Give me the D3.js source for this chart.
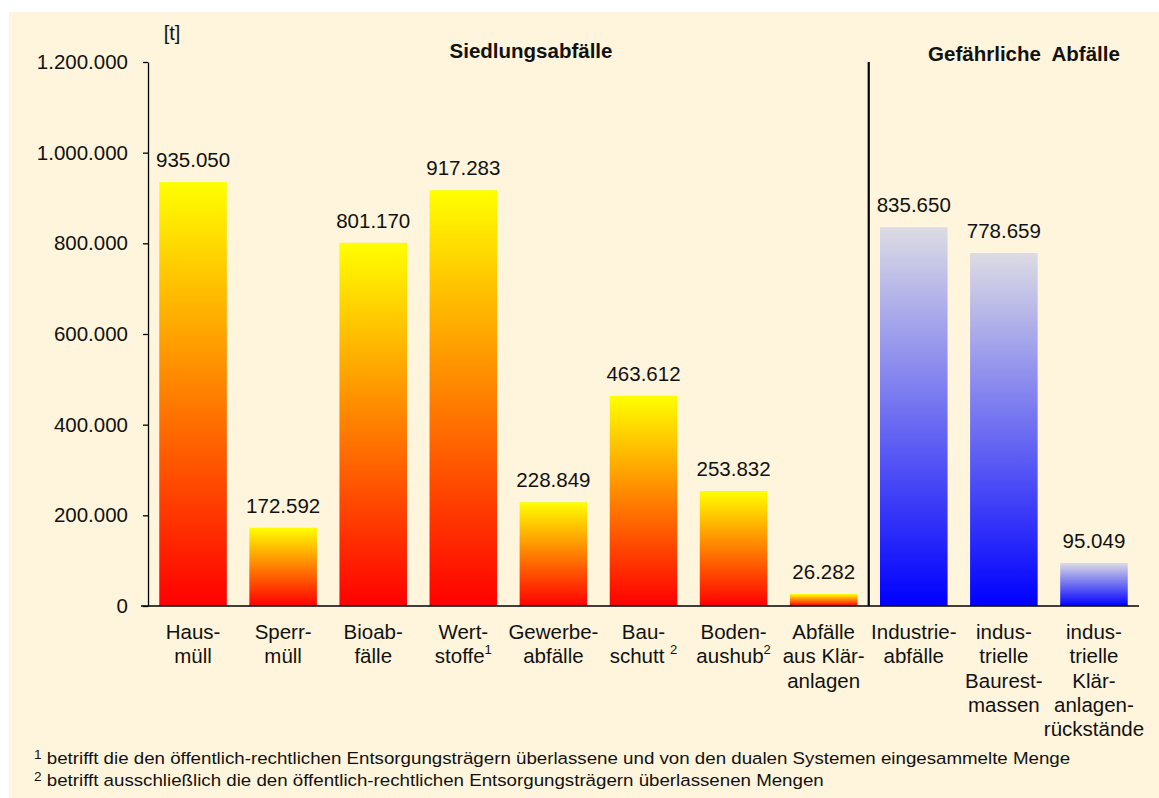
<!DOCTYPE html>
<html>
<head>
<meta charset="utf-8">
<script src="https://cdn.jsdelivr.net/npm/d3@7"></script>
<style>
  body { margin: 0; background: #ffffff; }
  svg { display: block; font-family: Arial, "Liberation Sans", sans-serif; }
</style>
</head>
<body>
<div id="chart"></div>
<script>
// categories: label lines, optional footnote mark on a line
const categories = [
    {lines: ['Haus-', 'müll']},
    {lines: ['Sperr-', 'müll']},
    {lines: ['Bioab-', 'fälle']},
    {lines: ['Wert-', 'stoffe'], note: '1', noteLine: 1},
    {lines: ['Gewerbe-', 'abfälle']},
    {lines: ['Bau-', 'schutt '], note: '2', noteLine: 1},
    {lines: ['Boden-', 'aushub'], note: '2', noteLine: 1},
    {lines: ['Abfälle', 'aus Klär-', 'anlagen']},
    {lines: ['Industrie-', 'abfälle']},
    {lines: ['indus-', 'trielle', 'Baurest-', 'massen']},
    {lines: ['indus-', 'trielle', 'Klär-', 'anlagen-', 'rückstände']}
];
const values = [935050, 172592, 801170, 917283, 228849, 463612, 253832, 26282, 835650, 778659, 95049];
// group of each bar: 's' = Siedlungsabfälle, 'g' = Gefährliche Abfälle
const groups = ['s', 's', 's', 's', 's', 's', 's', 's', 'g', 'g', 'g'];
const yTicks = [0, 200000, 400000, 600000, 800000, 1000000, 1200000];
const groupTitles = ['Siedlungsabfälle', 'Gefährliche  Abfälle'];
const footnotes = [
    {mark: '1', text: 'betrifft die den öffentlich-rechtlichen Entsorgungsträgern überlassene und von den dualen Systemen eingesammelte Menge'},
    {mark: '2', text: 'betrifft ausschließlich die den öffentlich-rechtlichen Entsorgungsträgern überlassenen Mengen'}
];

const width = 1159, height = 798;
const margin = {top: 62, right: 20, bottom: 192, left: 148};

const de = d3.formatLocale({decimal: ',', thousands: '.', grouping: [3], currency: ['', ' €']});
const fmt = de.format(',d');

const svg = d3.select('#chart').append('svg')
    .attr('width', width)
    .attr('height', height)
    .attr('viewBox', [0, 0, width, height]);

const defs = svg.append('defs');
const gradS = defs.append('linearGradient').attr('id', 'gradS')
    .attr('x1', 0).attr('y1', 0).attr('x2', 0).attr('y2', 1);
gradS.append('stop').attr('offset', 0).attr('stop-color', '#ffff00');
gradS.append('stop').attr('offset', 1).attr('stop-color', '#ff0000');
const gradG = defs.append('linearGradient').attr('id', 'gradG')
    .attr('x1', 0).attr('y1', 0).attr('x2', 0).attr('y2', 1);
gradG.append('stop').attr('offset', 0).attr('stop-color', '#dcdce4');
gradG.append('stop').attr('offset', 1).attr('stop-color', '#0000ff');

// cream panel
svg.append('rect')
    .attr('x', 9).attr('y', 12)
    .attr('width', width - 9).attr('height', height - 12)
    .attr('fill', '#fff5dc');

const x = d3.scaleBand()
    .domain(d3.range(values.length))
    .range([margin.left, 1139])
    .paddingInner(0.25)
    .paddingOuter(0.125);

const y = d3.scaleLinear()
    .domain([0, 1200000])
    .range([606, margin.top]);

// y axis
svg.append('g')
    .attr('transform', `translate(${margin.left},0)`)
    .call(d3.axisLeft(y).tickValues(yTicks).tickFormat(fmt).tickSize(5).tickSizeOuter(0).tickPadding(15))
    .call(g => g.selectAll('.tick text')
        .attr('font-size', 20.5)
        .attr('font-family', 'Arial, "Liberation Sans", sans-serif')
        .attr('fill', '#111'))
    .call(g => g.selectAll('line, path').attr('stroke', '#000').attr('stroke-width', 1.3));

svg.append('text')
    .attr('x', 172).attr('y', 40)
    .attr('text-anchor', 'middle')
    .attr('font-size', 20)
    .attr('fill', '#111')
    .text('[t]');

// bars
svg.append('g')
    .selectAll('rect')
    .data(values)
    .join('rect')
    .attr('x', (d, i) => x(i))
    .attr('y', d => y(d))
    .attr('width', x.bandwidth())
    .attr('height', d => y(0) - y(d))
    .attr('fill', (d, i) => groups[i] === 's' ? 'url(#gradS)' : 'url(#gradG)');

// value labels
svg.append('g')
    .selectAll('text')
    .data(values)
    .join('text')
    .attr('x', (d, i) => x(i) + x.bandwidth() / 2)
    .attr('y', d => y(d) - 15)
    .attr('text-anchor', 'middle')
    .attr('font-size', 20.5)
    .attr('fill', '#111')
    .text(d => fmt(d));

// baseline
svg.append('line')
    .attr('x1', margin.left - 7).attr('x2', x.range()[1])
    .attr('y1', y(0)).attr('y2', y(0))
    .attr('stroke', '#000').attr('stroke-width', 1.5);

// divider between the two groups
const split = groups.indexOf('g');
const divX = x(split) - x.step() * x.paddingInner() / 2;
svg.append('line')
    .attr('x1', divX).attr('x2', divX)
    .attr('y1', y(1200000)).attr('y2', y(0))
    .attr('stroke', '#000').attr('stroke-width', 2.2);

// category labels
const labels = svg.append('g')
    .selectAll('text')
    .data(categories)
    .join('text')
    .attr('text-anchor', 'middle')
    .attr('font-size', 20.5)
    .attr('fill', '#111');

labels.each(function(d, i) {
    const t = d3.select(this);
    const cx = x(i) + x.bandwidth() / 2;
    d.lines.forEach((line, k) => {
        t.append('tspan')
            .attr('x', cx)
            .attr('y', 639 + k * 24.3)
            .text(line);
        if (d.note && d.noteLine === k) {
            t.append('tspan')
                .attr('font-size', 13)
                .attr('dy', -9)
                .text(d.note);
        }
    });
});

// group titles
svg.append('text')
    .attr('x', 531).attr('y', 58)
    .attr('text-anchor', 'middle')
    .attr('font-size', 20.5)
    .attr('font-weight', 'bold')
    .attr('fill', '#111')
    .text(groupTitles[0]);

svg.append('text')
    .attr('x', 1024).attr('y', 61)
    .attr('text-anchor', 'middle')
    .attr('font-size', 20.5)
    .attr('font-weight', 'bold')
    .attr('fill', '#111')
    .style('white-space', 'pre')
    .text(groupTitles[1]);

// footnotes (source text is set a bit wider than Arial)
const fn = svg.append('g')
    .attr('transform', 'translate(34,0) scale(1.135,1)')
    .selectAll('text')
    .data(footnotes)
    .join('text')
    .attr('x', 0)
    .attr('y', (d, i) => 764 + i * 22)
    .attr('font-size', 16.5)
    .attr('fill', '#111');
fn.append('tspan').attr('font-size', 12).attr('dy', -5).text(d => d.mark);
fn.append('tspan').attr('dy', 5).text(d => ' ' + d.text);
</script>
</body>
</html>
